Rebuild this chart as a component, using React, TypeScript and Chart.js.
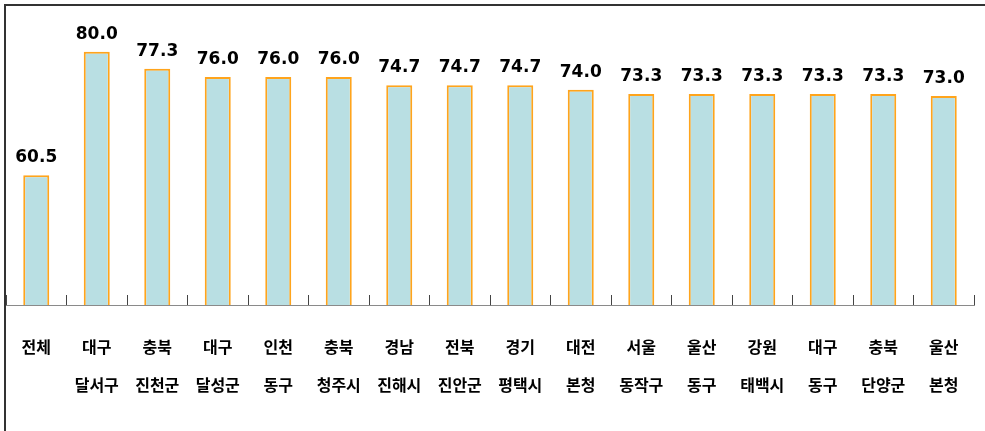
import React, { useEffect, useRef } from "react";
import { Chart, registerables } from "chart.js";

Chart.register(...registerables);

const regionLines = ["전체", "대구", "충북", "대구", "인천", "충북", "경남", "전북", "경기", "대전", "서울", "울산", "강원", "대구", "충북", "울산"];
const districtLines = ["", "달서구", "진천군", "달성군", "동구", "청주시", "진해시", "진안군", "평택시", "본청", "동작구", "동구", "태백시", "동구", "단양군", "본청"];
const values = [60.5, 80.0, 77.3, 76.0, 76.0, 76.0, 74.7, 74.7, 74.7, 74.0, 73.3, 73.3, 73.3, 73.3, 73.3, 73.0];

const valueLabelPlugin = {
  id: "valueLabels",
  afterDatasetsDraw(chart: any) {
    const ctx = chart.ctx;
    const meta = chart.getDatasetMeta(0);
    ctx.save();
    ctx.font = "bold 17px 'DejaVu Sans'";
    ctx.fillStyle = "#000";
    ctx.textAlign = "center";
    ctx.textBaseline = "alphabetic";
    meta.data.forEach((bar: any, i: number) => {
      const v = chart.data.datasets[0].data[i];
      ctx.fillText(Number(v).toFixed(1), bar.x, bar.y - 13);
    });
    ctx.restore();
  },
};

export default function App() {
  const ref = useRef<HTMLCanvasElement | null>(null);
  useEffect(() => {
    document.body.style.margin = "0";
    const labels = regionLines.map((r, i) => (districtLines[i] ? [r, districtLines[i]] : [r]));
    const chart = new Chart(ref.current as HTMLCanvasElement, {
      type: "bar",
      data: {
        labels,
        datasets: [
          {
            data: values,
            backgroundColor: "#B9DFE3",
            borderColor: "#FFA41C",
            borderWidth: 2,
            categoryPercentage: 1,
            barPercentage: 0.43,
          },
        ],
      },
      options: {
        responsive: false,
        animation: false,
        layout: { padding: { left: 6, right: 11, top: 20, bottom: 0 } },
        plugins: { legend: { display: false }, tooltip: { enabled: false } },
        scales: {
          y: { display: false, min: 40, max: 85 },
          x: {
            offset: true,
            afterFit(scale: any) {
              scale.height = 126;
              scale.paddingLeft = 0;
              scale.paddingRight = 0;
            },
            grid: {
              offset: true,
              drawOnChartArea: false,
              drawTicks: true,
              tickLength: -10,
              color: "#444",
              lineWidth: 1,
            },
            border: { display: true, color: "#8a8a8a", width: 1 },
            ticks: {
              padding: 33,
              color: "#000",
              maxRotation: 0,
              autoSkip: false,
              font: { family: "'Noto Sans CJK KR'", size: 16, weight: "bold", lineHeight: "38px" },
            },
          },
        },
      },
      plugins: [valueLabelPlugin],
    });
    return () => chart.destroy();
  }, []);
  return (
    <div style={{ position: "relative", width: 985, height: 431, overflow: "hidden", background: "#fff" }}>
      <div
        style={{
          position: "absolute",
          left: 4,
          top: 4,
          width: 1000,
          height: 500,
          borderTop: "2px solid #333",
          borderLeft: "2px solid #333",
          boxSizing: "border-box",
        }}
      />
      <canvas ref={ref} width={985} height={431} style={{ position: "absolute", left: 0, top: 0 }} />
    </div>
  );
}
